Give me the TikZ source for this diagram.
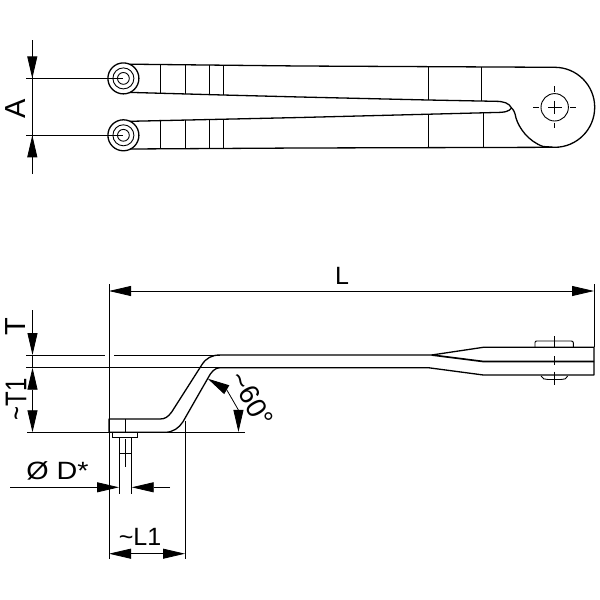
\documentclass[tikz,border=0pt]{standalone}
\usepackage{fontspec}
\setmainfont{Liberation Sans}
\usetikzlibrary{arrows.meta, calc, positioning}

\begin{document}
\begin{tikzpicture}[x=1pt, y=-1pt,
  arro/.style = {-{Triangle[length=22pt, width=10pt]}, line width=0.8pt},
  arroboth/.style = {{Triangle[length=22pt, width=10pt]}-{Triangle[length=22pt, width=10pt]}, line width=0.8pt}]

\tikzstyle{part} = [draw, line width=1.3pt, line join=round]
\tikzstyle{partfine} = [draw, line width=0.9pt]
\tikzstyle{dimen} = [draw, line width=0.8pt]
\tikzstyle{lab} = [font=\fontsize{25}{25}\selectfont, inner sep=0pt]
\tikzstyle{labside} = [font=\fontsize{29}{29}\selectfont, inner sep=0pt, rotate=90]

\useasboundingbox (0,0) rectangle (600,600);

% top view: eyes
\foreach \eye/\ypos in {upper/78.4, lower/135.3} {
  \draw[part] (123.4,\ypos) circle[radius=15.5];
  \draw[partfine] (123.4,\ypos) circle[radius=10.5];
  \draw[partfine] (123.4,\ypos) circle[radius=5.9];
}
% top view: outline
\draw[part] (130,64.2) -- (300,66) -- (554.7,67.3) arc[start angle=-90, end angle=90, radius=40]
  -- (543,146.5) .. controls (528,141) and (519,128) .. (516,118)
  .. controls (515,112) and (513,109) .. (511.5,108);
\draw[part] (130,92.4) -- (223,95) -- (300,97) -- (428,100) -- (495,101.3)
  .. controls (504,101.3) and (509,103) .. (511.5,108)
  .. controls (509,111.5) and (505,112.5) .. (495,112.5) -- (300,117.5) -- (130,121.3);
\draw[part] (130,149) -- (300,148) -- (552,147.3);
% top view: cross lines
\foreach \xpos/\ya in {160/93, 185/93.8, 209.5/94.6, 223/95} {
  \draw[partfine] (\xpos,65) -- (\xpos,\ya);
  \draw[partfine] (\xpos,119.5) -- (\xpos,148);
}
\draw[partfine] (428,66.3) -- (428,100);
\draw[partfine] (481.5,67) -- (481.5,101);
\draw[partfine] (428,114) -- (428,147.5);
\draw[partfine] (483.3,112.7) -- (483.3,147.5);
% top view: hole
\draw[partfine] (554.7,107.3) circle[radius=13.7];
\draw[dimen] (548,107.3) -- (561.5,107.3);
\draw[dimen] (554.7,100.6) -- (554.7,114);
\draw[dimen] (533.3,107.3) -- (539,107.3);
\draw[dimen] (570,107.3) -- (575.5,107.3);
\draw[dimen] (554.7,86) -- (554.7,91.7);
\draw[dimen] (554.7,122.7) -- (554.7,128.3);
% top view: dimension A
\draw[dimen] (26,78.4) -- (123,78.4);
\draw[dimen] (26,135.3) -- (123,135.3);
\coordinate (atop) at (32.3,40);
\coordinate (abot) at (32.3,174);
\draw[dimen] (atop) -- (abot);
\draw[arro] (atop) -- (32.3,78.4);
\draw[arro] (abot) -- (32.3,135.3);
\node[labside] (dima) at (16,108.5) {A};

% side view: outline
\draw[part] (594,347.3) -- (483.3,347.3) -- (431.7,355) -- (220,355)
  .. controls (212,355) and (206,358) .. (201.7,365)
  -- (171.7,412) .. controls (168,417) and (165,419) .. (160,419) -- (109,419) -- (109,432.3)
  -- (165,432.3) .. controls (173,432.3) and (179,428) .. (183,421.7)
  -- (208,378) .. controls (211,372) and (215,367.7) .. (220,367.7)
  -- (428.3,367.7) -- (483.3,375) -- (594,375) -- cycle;
\draw[part, line width=1.7pt] (431.7,355) -- (483.3,361.5) -- (594,361.5);
% side view: bolt at the end
\draw[partfine] (535,347.3) -- (535,342.7) .. controls (535,341.5) and (535.5,341) .. (537,341)
  -- (571,341) .. controls (572.5,341) and (573.3,341.5) .. (573.3,342.7) -- (573.3,347.3);
\draw[partfine] (541,376) .. controls (542,379) and (545,379.5) .. (548,379.5)
  -- (561,379.5) .. controls (564,379.5) and (567,379) .. (567.7,376);
\draw[dimen] (554.3,336) -- (554.3,348);
\draw[dimen] (554.3,356) -- (554.3,365);
\draw[dimen] (554.3,371.7) -- (554.3,385);
% side view: pin
\draw[partfine] (125,419) -- (125,432.3);
\draw[partfine] (112.7,432.3) rectangle (137.7,437.3);
\draw[partfine] (119,437.3) -- (119,494);
\draw[partfine] (131.7,437.3) -- (131.7,494);
\draw[partfine] (119,453.3) -- (131.7,453.3);
\draw[dimen] (125,439) -- (125,466.7);
% side view: extension lines
\draw[dimen] (109,284) -- (109,559);
\draw[dimen] (594,284) -- (594,347.3);
\draw[dimen] (185,421) -- (185,559);
\draw[dimen] (26,355) -- (105,355);
\draw[dimen] (114,355) -- (220,355);
\draw[dimen] (26,367.7) -- (220,367.7);
\draw[dimen] (27,432.3) -- (245,432.3);
% side view: dimension L
\coordinate (lleft) at (109,291);
\coordinate (lright) at (594,291);
\draw[arroboth] (lleft) -- (lright);
\node[lab] (diml) at (342,276) {L};
% side view: dimensions T and T1
\coordinate (ttop) at (32.5,310);
\draw[arro] (ttop) -- (32.5,355);
\draw[arroboth] (32.5,367.7) -- (32.5,432.3);
\draw[dimen] (32.5,355) -- (32.5,367.7);
\node[labside] (dimt) at (16,327) {T};
\node[labside, font=\fontsize{24}{24}\selectfont, yscale=1.25] (dimtone) at (16,399) {\textasciitilde T1};
% side view: dimension D
\draw[arro] (10,487.3) -- (119,487.3);
\draw[arro] (170,487.3) -- (131.7,487.3);
\node[lab, xscale=1.15] (dimd) at (57.5,471) {Ø D*};
% side view: dimension L1
\draw[arroboth] (109,553.7) -- (185,553.7);
\node[lab] (dimlone) at (140,537) {\textasciitilde L1};
% side view: angle
\draw[arroboth] (207.7,378.7) arc[start angle=-60, end angle=0, radius=61.5];
\node[lab, font=\fontsize{28}{28}\selectfont, rotate=-60] (dimangle) at (252,399) {\textasciitilde 60°};
\end{tikzpicture}
\end{document}
